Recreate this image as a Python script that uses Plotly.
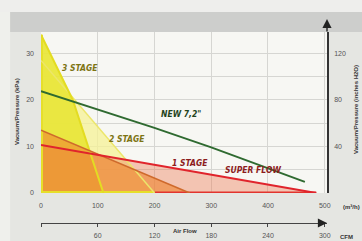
import plotly.graph_objects as go

# ---- data ----
flow_3stage = [0, 56, 110]
kpa_3stage = [34.0, 20.0, 0.0]

flow_2stage = [0, 200]
kpa_2stage = [28.5, 0.0]

flow_1stage = [0, 262]
kpa_1stage = [13.5, 0.0]

flow_super = [0, 485]
kpa_super = [10.3, 0.0]

flow_new72 = [0, 100, 200, 300, 400, 465]
kpa_new72 = [21.9, 18.0, 14.0, 9.8, 5.3, 2.4]

x_ticks = [0, 100, 200, 300, 400, 500]
y_ticks = [0, 5, 10, 15, 20, 25, 30]
y_ticktext = ["0", "", "10", "", "20", "", "30"]
y2_ticks = [40, 80, 120]
cfm_ticks = [0, 60, 120, 180, 240, 300]
cfm_ticktext = ["", "60", "120", "180", "240", "300"]

X_MAX = 504
Y_MAX = 34.6
KPA_TO_INH2O = 4.0
M3H_PER_CFM = 5.0 / 3.0

LABEL_FONT = "Liberation Sans Narrow, DejaVu Sans Condensed, Arial Narrow, sans-serif"

fig = go.Figure()

# fills (drawn first)
fills = [
    (flow_2stage, kpa_2stage, "rgba(245,241,150,0.75)"),
    (flow_3stage, kpa_3stage, "rgba(232,230,55,0.92)"),
    (flow_super, kpa_super, "rgba(238,120,80,0.40)"),
    (flow_1stage, kpa_1stage, "rgba(238,132,45,0.60)"),
]
for xs, ys, col in fills:
    fig.add_trace(go.Scatter(x=xs, y=ys, mode="lines", fill="tozeroy",
                             fillcolor=col, line=dict(width=0),
                             hoverinfo="skip", showlegend=False))

# edge lines
fig.add_trace(go.Scatter(x=[flow_2stage[-1], flow_super[-1]], y=[0, 0], mode="lines",
                         line=dict(color="#e2342e", width=3), hoverinfo="skip", showlegend=False))
fig.add_trace(go.Scatter(x=[0, 0, flow_2stage[-1]], y=[kpa_3stage[0], 0, 0], mode="lines",
                         line=dict(color="#e6df2a", width=4), hoverinfo="skip", showlegend=False))

lines = [
    (flow_2stage, kpa_2stage, "#ece66a", 1.5),
    (flow_3stage, kpa_3stage, "#e3dc22", 2),
    (flow_1stage, kpa_1stage, "#cf6a2c", 1.6),
    (flow_super, kpa_super, "#e0242c", 2),
    (flow_new72, kpa_new72, "#2f6a30", 2),
]
for xs, ys, col, w in lines:
    fig.add_trace(go.Scatter(x=xs, y=ys, mode="lines", line=dict(color=col, width=w),
                             hoverinfo="skip", showlegend=False))

# dummy traces to activate secondary axes
fig.add_trace(go.Scatter(x=[0], y=[0], xaxis="x", yaxis="y2", mode="markers",
                         marker=dict(opacity=0), hoverinfo="skip", showlegend=False))
fig.add_trace(go.Scatter(x=[0], y=[0], xaxis="x2", yaxis="y", mode="markers",
                         marker=dict(opacity=0), hoverinfo="skip", showlegend=False))

YDOM0 = 30 / 191
tickfont = dict(family="Liberation Sans, Arial, sans-serif", size=7, color="#555555")

fig.update_layout(
    width=362, height=241,
    margin=dict(l=41, r=35, t=32, b=18, autoexpand=False),
    paper_bgcolor="#e5e6e2",
    plot_bgcolor="#f7f7f3",
    xaxis=dict(range=[0, X_MAX], tickvals=x_ticks, showgrid=True, gridcolor="#d6d6d2",
               gridwidth=1, zeroline=False, showline=False, ticks="outside", ticklen=6,
               tickcolor="rgba(0,0,0,0)", tickfont=tickfont, anchor="y", automargin=False),
    xaxis2=dict(range=[0, X_MAX / M3H_PER_CFM], overlaying="x", anchor="free", position=0,
                side="bottom", tickvals=cfm_ticks, ticktext=cfm_ticktext, showgrid=False,
                zeroline=False, showline=True, linecolor="#444444", linewidth=1.3,
                ticks="outside", ticklen=3, tickcolor="#444444", tickfont=tickfont,
                ticklabelstandoff=2, automargin=False),
    yaxis=dict(domain=[YDOM0, 1], range=[0, Y_MAX], tickvals=y_ticks, ticktext=y_ticktext,
               showgrid=True, gridcolor="#d6d6d2", gridwidth=1, zeroline=False,
               showline=False, ticks="", tickfont=tickfont, ticklabelstandoff=6,
               automargin=False),
    yaxis2=dict(domain=[YDOM0, 1], range=[0, Y_MAX * KPA_TO_INH2O], overlaying="y",
                side="right", anchor="x", tickvals=y2_ticks, showgrid=False, zeroline=False,
                showline=True, linecolor="#333333", linewidth=1.5, ticks="",
                tickfont=tickfont, ticklabelstandoff=4, automargin=False),
    shapes=[
        dict(type="rect", xref="paper", yref="paper", x0=-0.2, x1=1.3, y0=1.0, y1=1.105,
             fillcolor="#cdcecc", line=dict(width=0), layer="below"),
        dict(type="rect", xref="paper", yref="paper", x0=-0.2, x1=-0.108, y0=-0.2, y1=1.3,
             fillcolor="#eff0ec", line=dict(width=0), layer="below"),
        dict(type="rect", xref="paper", yref="paper", x0=-0.2, x1=1.3, y0=1.105, y1=1.3,
             fillcolor="#eeeeec", line=dict(width=0), layer="below"),
    ],
)

ann = []
def chart_label(text, x, y, color):
    ann.append(dict(text="<b><i>" + text + "</i></b>", x=x, y=y, xref="x", yref="y",
                    xanchor="center", yanchor="middle",
                    showarrow=False, font=dict(family=LABEL_FONT, size=8.5, color=color)))

chart_label("3 STAGE", 69, 26.9, "#7d7413")
chart_label("2 STAGE", 152, 11.6, "#7d7413")
chart_label("NEW 7,2\"", 247, 17.0, "#24441c")
chart_label("1 STAGE", 263, 6.4, "#8c1c1c")
chart_label("SUPER FLOW", 374, 4.9, "#8c1c1c")

small = dict(family="Liberation Sans, Arial, sans-serif", size=6, color="#333333")
def paper_text(text, px, py, angle=0):
    ann.append(dict(text="<b>" + text + "</b>", x=(px - 41) / 286, y=(223 - py) / 191,
                    xref="paper", yref="paper", xanchor="center", yanchor="middle",
                    textangle=angle, showarrow=False, font=small))

paper_text("Vacuum/Pressure (kPa)", 17, 112, -90)
paper_text("Vacuum/Pressure (inches H2O)", 356, 110, -90)
paper_text("(m³/h)", 351, 207)
paper_text("CFM", 346, 237)
paper_text("Air Flow", 185, 231)

ann += [
    dict(x=X_MAX / M3H_PER_CFM, y=0, xref="x2", yref="paper", ax=-10, ay=0,
         showarrow=True, arrowhead=2, arrowsize=1.3, arrowwidth=1.4, arrowcolor="#222222", text=""),
    dict(x=1, y=(223 - 19) / 191, xref="paper", yref="paper", ax=0, ay=14,
         showarrow=True, arrowhead=2, arrowsize=1.3, arrowwidth=1.4, arrowcolor="#222222", text=""),
]
fig.update_layout(annotations=ann)

fig.write_html("out.html", config={"displayModeBar": False},
               post_script="document.body.style.margin='0';document.body.style.overflow='hidden';")
